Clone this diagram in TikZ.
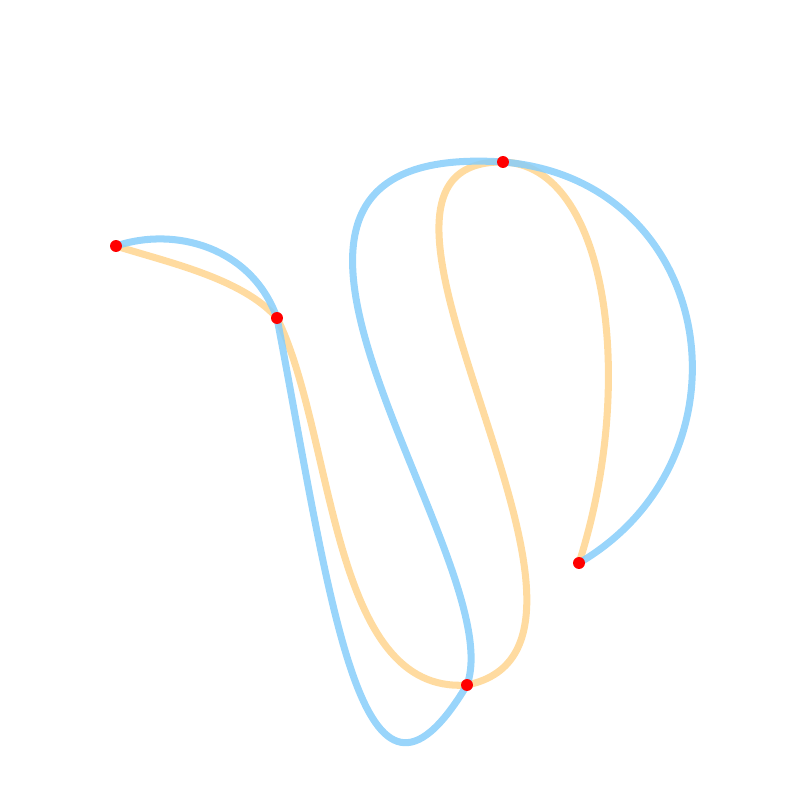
\documentclass[tikz,border=0pt]{standalone}
\usepackage{xcolor}
\usepackage{tikz}
\usetikzlibrary{calc}

\definecolor{curveblue}{RGB}{135,206,250}
\definecolor{curveorange}{RGB}{255,204,119}

\begin{document}
\begin{tikzpicture}[
    bluecurve/.style={line width=2pt, curveblue, opacity=0.85},
    orangecurve/.style={line width=2pt, curveorange, opacity=0.7},
    knot/.style={circle, fill=red, inner sep=0pt, minimum size=3.4pt}]

  \useasboundingbox (0,0) rectangle (8,8);

  % ==== Knots ====
  \coordinate (p1) at (1.16,5.54);
  \coordinate (p2) at (2.77,4.82);
  \coordinate (p3) at (5.03,6.38);
  \coordinate (p4) at (5.79,2.37);
  \coordinate (p5) at (4.67,1.15);

  % ==== Orange curve ====
  \draw[orangecurve] (p1) .. controls +(0.50,-0.16) and +(-0.35,0.40) .. (p2)
    .. controls +(0.58,-1.17) and +(-1.37,-0.10) .. (p5)
    .. controls +(1.95,0.40) and +(-2.03,0.02) .. (p3)
    .. controls +(1.05,-0.03) and +(0.58,1.80) .. (p4);

  % ==== Blue curve ====
  \draw[bluecurve] (p1) .. controls +(0.60,0.20) and +(-0.25,0.70) .. (p2)
    .. controls +(0.55,-2.90) and +(-1.05,-1.75) .. (p5)
    .. controls +(0.45,1.25) and +(-3.40,0.22) .. (p3)
    .. controls +(2.15,-0.18) and +(1.80,1.05) .. (p4);

  % red dots on the knots
  \foreach \k in {1,...,5}
    \node[knot] (k\k) at (p\k) {};
\end{tikzpicture}
\end{document}
